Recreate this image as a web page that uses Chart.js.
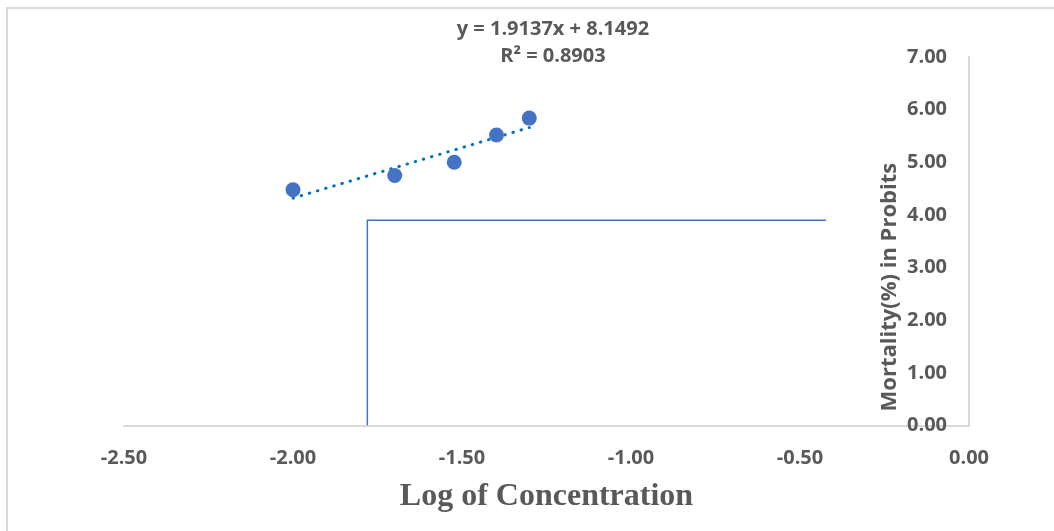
<!DOCTYPE html>
<html>
<head>
<meta charset="utf-8">
<script src="https://cdn.jsdelivr.net/npm/chart.js@4.4.0/dist/chart.umd.min.js"></script>
<style>
  body { margin: 0; background: #fff; }
  #wrap { position: relative; width: 1054px; height: 531px; overflow: hidden; }
  #frame { position: absolute; left: 6px; top: 7px; width: 1100px; height: 600px;
           border-top: 2px solid #d9d9d9; border-left: 2px solid #d9d9d9; pointer-events: none; }
</style>
</head>
<body>
<div id="wrap">
  <canvas id="chartProbit" width="1054" height="531"></canvas>
  <div id="frame"></div>
</div>
<script>
// observed points
const logConc = [-2.0, -1.699, -1.523, -1.398, -1.301];
const probit = [4.48, 4.75, 5.00, 5.52, 5.84];
// trendline ends
const trendX = [-2.0, -1.301];
const trendY = [4.32, 5.66];
// LC50 guide lines
const guideX = [-0.423, -1.780, -1.780];
const guideY = [3.90, 3.90, 0];
const eqLines = ["y = 1.9137x + 8.1492", "R² = 0.8903"];
const xRange = [-2.5, 0];
const yRange = [0, 7];

const toXY = (xs, ys) => xs.map((x, i) => ({ x: x, y: ys[i] }));
const grey = "#595959";
const tickFont = { family: "'Open Sans'", size: 20, weight: "bold" };

const labelsPlugin = {
  id: "labels",
  afterDraw(chart) {
    const ctx = chart.ctx;
    const sx = chart.scales.x, sy = chart.scales.y;
    ctx.save();
    ctx.fillStyle = grey;
    ctx.font = "bold 20px 'Open Sans'";
    ctx.textAlign = "center";
    ctx.textBaseline = "middle";
    const cx = sx.getPixelForValue(-1.231);
    ctx.fillText(eqLines[0], cx, sy.getPixelForValue(7.53));
    ctx.fillText(eqLines[1], cx, sy.getPixelForValue(7.02));
    // y axis title, sits over the tick labels like the original
    ctx.translate(sx.getPixelForValue(0) - 79, sy.getPixelForValue(2.63));
    ctx.rotate(-Math.PI / 2);
    ctx.font = "bold 22px 'Open Sans'";
    ctx.fillText("Mortality(%) in Probits", 0, 0);
    ctx.restore();
  }
};

const ctxProbit = document.getElementById("chartProbit").getContext("2d");
const chartProbit = new Chart(ctxProbit, {
  type: "scatter",
  data: {
    datasets: [
      {
        label: "Mortality",
        data: toXY(logConc, probit),
        backgroundColor: "#4472C4",
        borderWidth: 0,
        pointRadius: 7.5,
        pointHoverRadius: 7.5,
        order: 1
      },
      {
        label: "Linear trend",
        data: toXY(trendX, trendY),
        showLine: true,
        borderColor: "#0070C0",
        borderWidth: 3,
        borderDash: [0.5, 8],
        borderCapStyle: "round",
        pointRadius: 0,
        order: 2
      },
      {
        label: "LC50",
        data: toXY(guideX, guideY),
        showLine: true,
        borderColor: "#4472C4",
        borderWidth: 1.5,
        pointRadius: 0,
        order: 3
      }
    ]
  },
  options: {
    responsive: false,
    animation: false,
    layout: { padding: { left: 124, right: 85, top: 57, bottom: 15 } },
    plugins: { legend: { display: false }, tooltip: { enabled: false } },
    scales: {
      x: {
        type: "linear",
        min: xRange[0],
        max: xRange[1],
        grid: { display: false, drawTicks: false },
        border: { display: true, color: "#d9d9d9", width: 2 },
        ticks: {
          stepSize: 0.5,
          padding: 21,
          color: grey,
          font: tickFont,
          callback: v => v.toFixed(2)
        },
        title: {
          display: true,
          text: "Log of Concentration",
          color: grey,
          font: { family: "'Liberation Serif'", size: 32, weight: "bold" },
          padding: { top: -14, bottom: 0 }
        }
      },
      y: {
        type: "linear",
        position: { x: 0 },
        min: yRange[0],
        max: yRange[1],
        grid: { display: false, drawTicks: false },
        border: { display: true, color: "#d9d9d9", width: 2 },
        ticks: { display: false, stepSize: 1 }
      },
      yLabels: {
        type: "linear",
        axis: "y",
        position: { x: -0.065 },
        min: yRange[0],
        max: yRange[1],
        grid: { display: false, drawTicks: false },
        border: { display: false },
        ticks: {
          stepSize: 1,
          color: grey,
          font: tickFont,
          callback: v => v.toFixed(2)
        }
      }
    }
  },
  plugins: [labelsPlugin]
});
</script>
</body>
</html>
